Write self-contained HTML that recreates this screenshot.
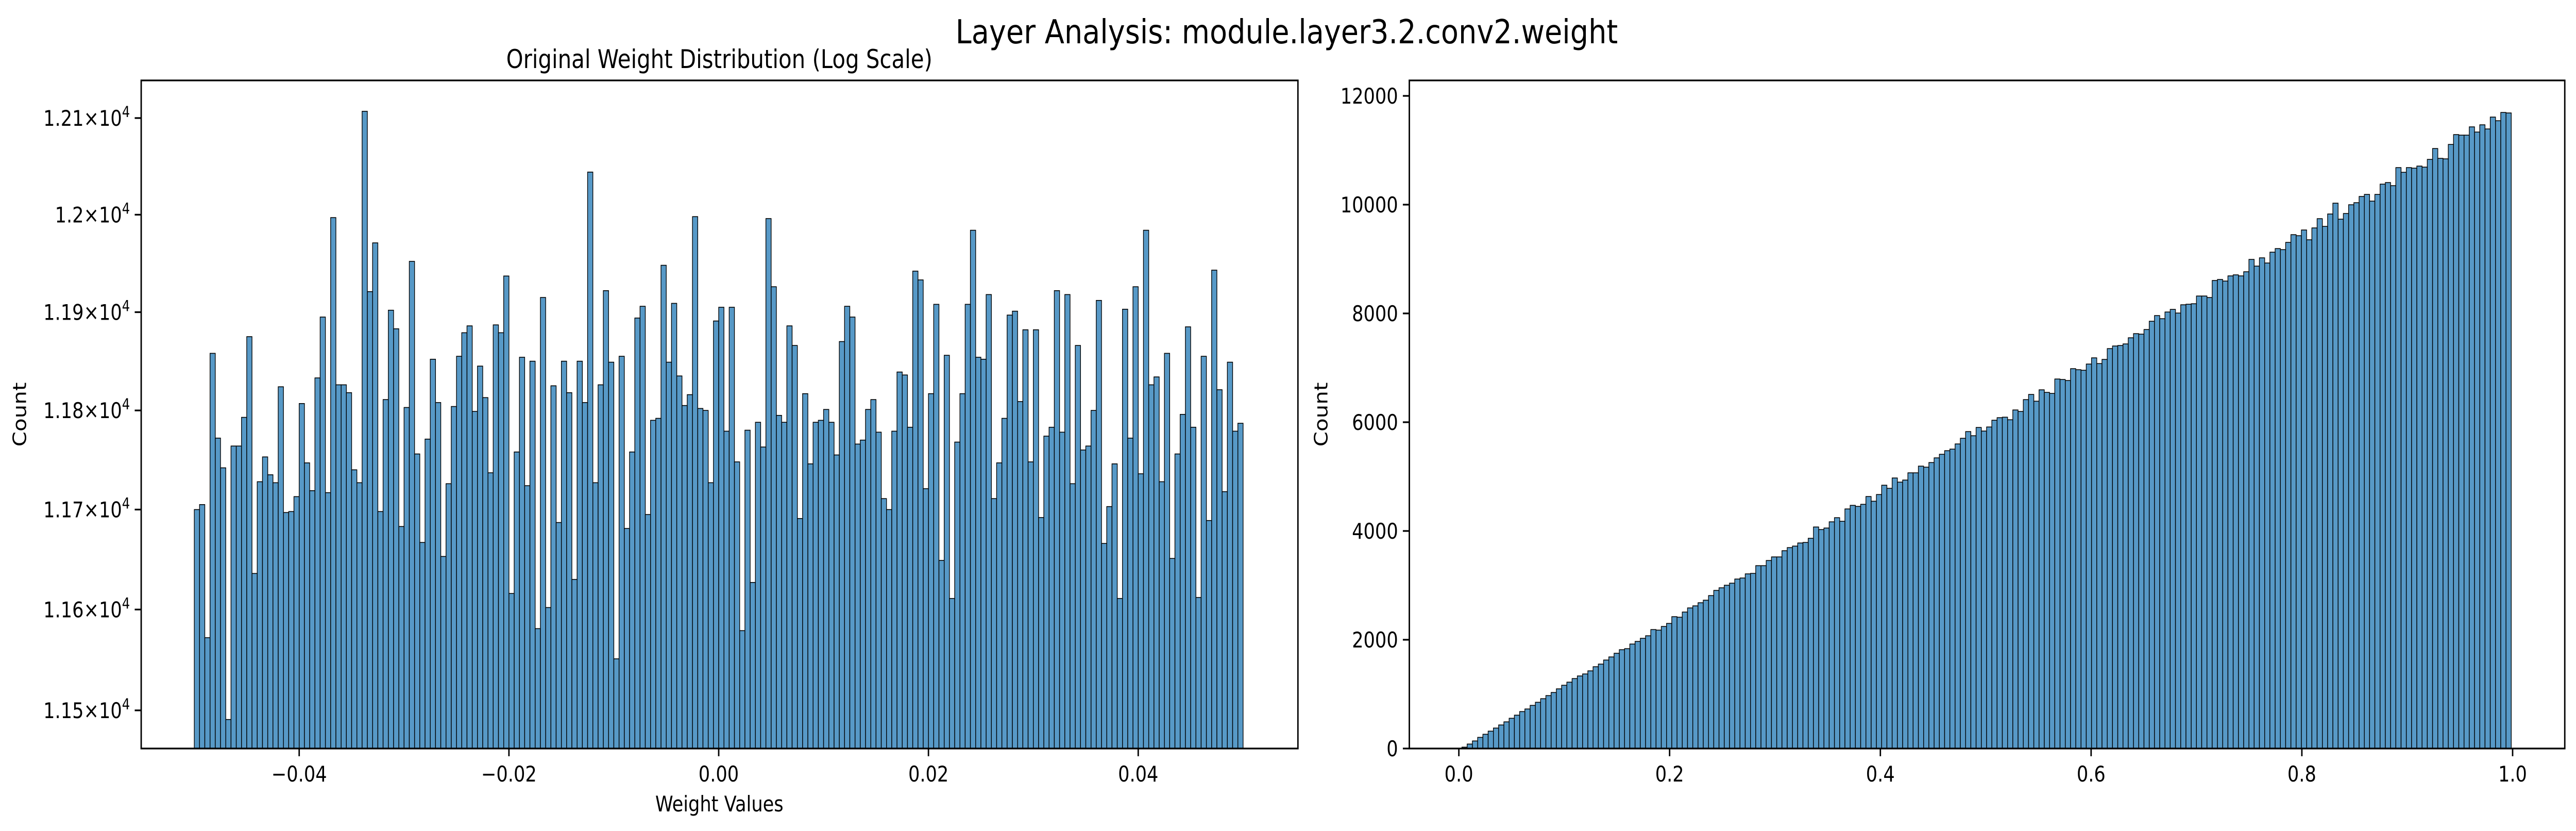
<!DOCTYPE html>
<html><head><meta charset="utf-8"><title>Layer Analysis</title>
<style>html,body{margin:0;padding:0;background:#fff;overflow:hidden;width:100%;height:100%}svg{display:block;width:100vw;height:100vh}text{font-family:"DejaVu Sans","Liberation Sans",sans-serif;fill:#000}</style>
</head><body>
<svg id="fig" viewBox="0 0 5966 1612" preserveAspectRatio="none" xmlns="http://www.w3.org/2000/svg">
<rect width="5966" height="1612" fill="#fff"/>
<text x="2980" y="84" font-size="64" text-anchor="middle" textLength="1534" lengthAdjust="spacingAndGlyphs">Layer Analysis: module.layer3.2.conv2.weight</text>
<text x="1666" y="132" font-size="50" text-anchor="middle" textLength="987" lengthAdjust="spacingAndGlyphs">Original Weight Distribution (Log Scale)</text>
<g id="left"></g>
<g id="right"></g>
<text x="1666" y="1574" font-size="42" text-anchor="middle">Weight Values</text>
<text x="0" y="0" font-size="42" text-anchor="middle" transform="translate(60,804) rotate(-90)">Count</text>
<text x="0" y="0" font-size="42" text-anchor="middle" transform="translate(3074,804) rotate(-90)">Count</text>
</svg>
<script>
const leftCounts = [11700,11705,11572,11858,11772,11742,11491,11764,11764,11793,11875,11636,11728,11753,11735,11727,11824,11697,11698,11713,11807,11747,11719,11833,11895,11717,11997,11826,11826,11818,11740,11727,12107,11921,11971,11698,11811,11902,11883,11683,11803,11952,11756,11667,11771,11852,11808,11653,11726,11804,
11855,11879,11886,11799,11845,11813,11737,11887,11879,11937,11616,11758,11854,11724,11850,11581,11915,11602,11825,11687,11850,11818,11630,11850,11808,12044,11727,11826,11922,11849,11551,11855,11681,11758,11894,11906,11695,11790,11792,11948,11849,11909,11835,11805,11816,11998,11802,11800,11727,11891,
11905,11779,11905,11748,11579,11780,11627,11788,11763,11996,11926,11795,11788,11886,11866,11691,11817,11746,11788,11790,11801,11788,11755,11870,11906,11895,11766,11770,11801,11811,11778,11711,11700,11779,11839,11836,11783,11942,11933,11721,11817,11908,11649,11856,11611,11768,11817,11908,11984,11854,
11852,11918,11711,11747,11792,11897,11901,11809,11882,11748,11882,11692,11774,11783,11922,11778,11918,11726,11866,11760,11764,11800,11912,11666,11703,11746,11611,11903,11772,11926,11736,11984,11826,11834,11728,11858,11651,11756,11796,11885,11783,11612,11855,11689,11943,11821,11718,11849,11779,11787];
const leftBinStart = -0.05;
const leftBinEnd = 0.05;
const leftXTicks = [-0.04,-0.02,0.0,0.02,0.04];
const leftXTickLabels = ["\u22120.04","\u22120.02","0.00","0.02","0.04"];
const leftYTicks = [11500,11600,11700,11800,11900,12000,12100];
const leftYTickMantissa = ["1.15","1.16","1.17","1.18","1.19","1.2","1.21"];

const rightCounts = [25,82,139,205,262,319,376,433,490,556,613,679,727,793,850,916,973,1030,1097,1163,1220,1286,1334,1371,1428,1504,1552,1627,1684,1751,1817,1836,1921,1969,2026,2073,2187,2177,2244,2300,2424,2414,2509,2585,2623,2680,2727,2812,2907,2955,
3002,3040,3116,3135,3211,3220,3362,3362,3457,3523,3523,3637,3694,3722,3779,3789,3865,4073,4026,4054,4168,4244,4178,4405,4471,4452,4490,4633,4547,4670,4841,4784,4974,4898,4936,5069,5069,5192,5173,5258,5344,5410,5476,5505,5600,5704,5827,5751,5903,5837,
5912,6036,6083,6092,6045,6225,6197,6415,6510,6386,6595,6548,6529,6794,6785,6766,6984,6965,6955,7069,7183,7078,7154,7353,7401,7410,7439,7552,7628,7619,7704,7856,7960,7903,8026,8074,8007,8159,8169,8178,8320,8320,8292,8605,8624,8595,8690,8709,8690,8766,
8993,8870,9022,8927,9126,9192,9173,9306,9448,9429,9534,9354,9572,9742,9600,9828,10027,9733,9837,9998,10036,10150,10188,10065,10188,10377,10406,10349,10681,10595,10681,10671,10709,10690,10832,11032,10851,10842,11107,11288,11278,11278,11430,11335,11468,11392,11610,11543,11695,11686];
const rightBinStart = 0.0029;
const rightBinEnd = 0.9987;
const rightXTicks = [0,0.2,0.4,0.6,0.8,1.0];
const rightXTickLabels = ["0.0","0.2","0.4","0.6","0.8","1.0"];
const rightYTicks = [0,2000,4000,6000,8000,10000,12000];
const rightYTickLabels = ["0","2000","4000","6000","8000","10000","12000"];

const NS = "http://www.w3.org/2000/svg";
function mk(tag, attrs, parent){const e=document.createElementNS(NS,tag);for(const k in attrs)e.setAttribute(k,attrs[k]);parent.appendChild(e);return e;}

// Left axes
const L = {x0:327, x1:3006, y0:156, y1:1452};
const lx = v => 1664.5 + v*24290;
const lLog0 = Math.log10(11500), lLogSpan = Math.log10(12100)-Math.log10(11500);
const ly = v => 1378 - (Math.log10(v)-lLog0)/lLogSpan*1149;
const lg = document.getElementById('left');
const lw = (leftBinEnd-leftBinStart)/leftCounts.length;
leftCounts.forEach((c,i)=>{
  const xa = lx(leftBinStart+i*lw), xb = lx(leftBinStart+(i+1)*lw);
  const top = ly(c);
  const r = mk('rect',{x:xa,y:top,width:xb-xa,height:L.y1-top,fill:'rgba(31,119,180,0.75)',stroke:'#000','stroke-width':1.6},lg);
  
  
});
leftXTicks.forEach((t,i)=>{
  const x = lx(t);
  const tk = mk('line',{x1:x,x2:x,y1:L.y1,y2:L.y1+15,stroke:'#000','stroke-width':3.3},lg);
  
  
  const tx = mk('text',{x:x,y:L.y1+64,'font-size':42,'text-anchor':'middle'},lg);
  tx.textContent = leftXTickLabels[i];
  
  
});
leftYTicks.forEach((t,i)=>{
  const y = ly(t);
  const tk = mk('line',{x1:L.x0-15,x2:L.x0,y1:y,y2:y,stroke:'#000','stroke-width':3.3},lg);
  
  
  const tx = mk('text',{x:L.x0-26,y:y+15,'font-size':42,'text-anchor':'end'},lg);
  
  
  const a = document.createElementNS(NS,'tspan'); a.textContent = leftYTickMantissa[i] + '\u00d710'; tx.appendChild(a);
  const b = document.createElementNS(NS,'tspan'); b.setAttribute('dy','-17'); b.setAttribute('font-size','29'); b.textContent='4'; tx.appendChild(b);
});
const lf = mk('rect',{x:L.x0,y:L.y0,width:L.x1-L.x0,height:L.y1-L.y0,fill:'none',stroke:'#000','stroke-width':3.3},lg);



// Right axes
const R = {x0:3264, x1:5940, y0:156, y1:1452};
const rx = v => 3378.7 + v*2440.5;
const ry = v => 1452 - v*0.1055;
const rg = document.getElementById('right');
const rw = (rightBinEnd-rightBinStart)/rightCounts.length;
rightCounts.forEach((c,i)=>{
  const xa = rx(rightBinStart+i*rw), xb = rx(rightBinStart+(i+1)*rw);
  const top = ry(c);
  const r = mk('rect',{x:xa,y:top,width:xb-xa,height:R.y1-top,fill:'rgba(31,119,180,0.75)',stroke:'#000','stroke-width':1.6},rg);
  
  
});
rightXTicks.forEach((t,i)=>{
  const x = rx(t);
  const tk = mk('line',{x1:x,x2:x,y1:R.y1,y2:R.y1+15,stroke:'#000','stroke-width':3.3},rg);
  
  
  const tx = mk('text',{x:x,y:R.y1+64,'font-size':42,'text-anchor':'middle'},rg);
  tx.textContent = rightXTickLabels[i];
  
  
});
rightYTicks.forEach((t,i)=>{
  const y = ry(t);
  const tk = mk('line',{x1:R.x0-15,x2:R.x0,y1:y,y2:y,stroke:'#000','stroke-width':3.3},rg);
  
  
  const tx = mk('text',{x:R.x0-26,y:y+15,'font-size':42,'text-anchor':'end'},rg);
  tx.textContent = rightYTickLabels[i];
  
  
});
const rf = mk('rect',{x:R.x0,y:R.y0,width:R.x1-R.x0,height:R.y1-R.y0,fill:'none',stroke:'#000','stroke-width':3.3},rg);


</script>
</body></html>
